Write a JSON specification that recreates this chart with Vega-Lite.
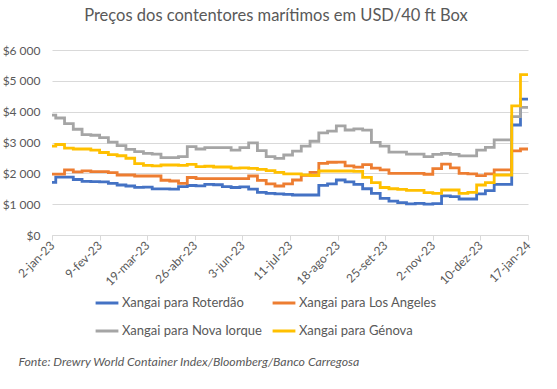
{
 "$schema": "https://vega.github.io/schema/vega-lite/v6.json",
 "width": 476, "height": 185,
 "autosize": "none",
 "padding": {"left": 52, "top": 50, "right": 29, "bottom": 154},
 "background": "white",
 "title": {"text": "Preços dos contentores marítimos em USD/40 ft Box", "fontSize": 16.5, "fontWeight": "normal", "color": "#595959", "font": "Lato", "anchor": "middle", "dx": -14, "offset": 20},
 "data": {"values": [
{"semana":"2023-01-02","rota":"Xangai para Roterdão","preco":1708},
{"semana":"2023-01-05","rota":"Xangai para Roterdão","preco":1880},
{"semana":"2023-01-12","rota":"Xangai para Roterdão","preco":1880},
{"semana":"2023-01-19","rota":"Xangai para Roterdão","preco":1800},
{"semana":"2023-01-26","rota":"Xangai para Roterdão","preco":1740},
{"semana":"2023-02-02","rota":"Xangai para Roterdão","preco":1730},
{"semana":"2023-02-09","rota":"Xangai para Roterdão","preco":1720},
{"semana":"2023-02-16","rota":"Xangai para Roterdão","preco":1676},
{"semana":"2023-02-23","rota":"Xangai para Roterdão","preco":1622},
{"semana":"2023-03-02","rota":"Xangai para Roterdão","preco":1590},
{"semana":"2023-03-09","rota":"Xangai para Roterdão","preco":1546},
{"semana":"2023-03-16","rota":"Xangai para Roterdão","preco":1550},
{"semana":"2023-03-23","rota":"Xangai para Roterdão","preco":1495},
{"semana":"2023-03-30","rota":"Xangai para Roterdão","preco":1495},
{"semana":"2023-04-06","rota":"Xangai para Roterdão","preco":1490},
{"semana":"2023-04-13","rota":"Xangai para Roterdão","preco":1570},
{"semana":"2023-04-20","rota":"Xangai para Roterdão","preco":1605},
{"semana":"2023-04-27","rota":"Xangai para Roterdão","preco":1595},
{"semana":"2023-05-04","rota":"Xangai para Roterdão","preco":1645},
{"semana":"2023-05-11","rota":"Xangai para Roterdão","preco":1630},
{"semana":"2023-05-18","rota":"Xangai para Roterdão","preco":1570},
{"semana":"2023-05-25","rota":"Xangai para Roterdão","preco":1540},
{"semana":"2023-06-01","rota":"Xangai para Roterdão","preco":1560},
{"semana":"2023-06-08","rota":"Xangai para Roterdão","preco":1490},
{"semana":"2023-06-15","rota":"Xangai para Roterdão","preco":1380},
{"semana":"2023-06-22","rota":"Xangai para Roterdão","preco":1352},
{"semana":"2023-06-29","rota":"Xangai para Roterdão","preco":1335},
{"semana":"2023-07-06","rota":"Xangai para Roterdão","preco":1320},
{"semana":"2023-07-13","rota":"Xangai para Roterdão","preco":1298},
{"semana":"2023-07-20","rota":"Xangai para Roterdão","preco":1298},
{"semana":"2023-07-27","rota":"Xangai para Roterdão","preco":1298},
{"semana":"2023-08-03","rota":"Xangai para Roterdão","preco":1610},
{"semana":"2023-08-10","rota":"Xangai para Roterdão","preco":1660},
{"semana":"2023-08-17","rota":"Xangai para Roterdão","preco":1784},
{"semana":"2023-08-24","rota":"Xangai para Roterdão","preco":1720},
{"semana":"2023-08-31","rota":"Xangai para Roterdão","preco":1640},
{"semana":"2023-09-07","rota":"Xangai para Roterdão","preco":1500},
{"semana":"2023-09-14","rota":"Xangai para Roterdão","preco":1350},
{"semana":"2023-09-21","rota":"Xangai para Roterdão","preco":1190},
{"semana":"2023-09-28","rota":"Xangai para Roterdão","preco":1100},
{"semana":"2023-10-05","rota":"Xangai para Roterdão","preco":1050},
{"semana":"2023-10-12","rota":"Xangai para Roterdão","preco":1010},
{"semana":"2023-10-19","rota":"Xangai para Roterdão","preco":1028},
{"semana":"2023-10-26","rota":"Xangai para Roterdão","preco":1000},
{"semana":"2023-11-02","rota":"Xangai para Roterdão","preco":1020},
{"semana":"2023-11-09","rota":"Xangai para Roterdão","preco":1270},
{"semana":"2023-11-16","rota":"Xangai para Roterdão","preco":1243},
{"semana":"2023-11-23","rota":"Xangai para Roterdão","preco":1168},
{"semana":"2023-11-30","rota":"Xangai para Roterdão","preco":1168},
{"semana":"2023-12-07","rota":"Xangai para Roterdão","preco":1335},
{"semana":"2023-12-14","rota":"Xangai para Roterdão","preco":1440},
{"semana":"2023-12-21","rota":"Xangai para Roterdão","preco":1640},
{"semana":"2023-12-28","rota":"Xangai para Roterdão","preco":1640},
{"semana":"2024-01-04","rota":"Xangai para Roterdão","preco":3568},
{"semana":"2024-01-11","rota":"Xangai para Roterdão","preco":4410},
{"semana":"2024-01-17","rota":"Xangai para Roterdão","preco":4410},
{"semana":"2023-01-02","rota":"Xangai para Los Angeles","preco":1975},
{"semana":"2023-01-05","rota":"Xangai para Los Angeles","preco":1975},
{"semana":"2023-01-12","rota":"Xangai para Los Angeles","preco":2109},
{"semana":"2023-01-19","rota":"Xangai para Los Angeles","preco":2045},
{"semana":"2023-01-26","rota":"Xangai para Los Angeles","preco":2080},
{"semana":"2023-02-02","rota":"Xangai para Los Angeles","preco":2054},
{"semana":"2023-02-09","rota":"Xangai para Los Angeles","preco":2054},
{"semana":"2023-02-16","rota":"Xangai para Los Angeles","preco":2022},
{"semana":"2023-02-23","rota":"Xangai para Los Angeles","preco":1946},
{"semana":"2023-03-02","rota":"Xangai para Los Angeles","preco":1946},
{"semana":"2023-03-09","rota":"Xangai para Los Angeles","preco":1914},
{"semana":"2023-03-16","rota":"Xangai para Los Angeles","preco":1914},
{"semana":"2023-03-23","rota":"Xangai para Los Angeles","preco":1914},
{"semana":"2023-03-30","rota":"Xangai para Los Angeles","preco":1775},
{"semana":"2023-04-06","rota":"Xangai para Los Angeles","preco":1752},
{"semana":"2023-04-13","rota":"Xangai para Los Angeles","preco":1676},
{"semana":"2023-04-20","rota":"Xangai para Los Angeles","preco":1865},
{"semana":"2023-04-27","rota":"Xangai para Los Angeles","preco":1830},
{"semana":"2023-05-04","rota":"Xangai para Los Angeles","preco":1830},
{"semana":"2023-05-11","rota":"Xangai para Los Angeles","preco":1830},
{"semana":"2023-05-18","rota":"Xangai para Los Angeles","preco":1830},
{"semana":"2023-05-25","rota":"Xangai para Los Angeles","preco":1830},
{"semana":"2023-06-01","rota":"Xangai para Los Angeles","preco":1830},
{"semana":"2023-06-08","rota":"Xangai para Los Angeles","preco":1914},
{"semana":"2023-06-15","rota":"Xangai para Los Angeles","preco":1770},
{"semana":"2023-06-22","rota":"Xangai para Los Angeles","preco":1660},
{"semana":"2023-06-29","rota":"Xangai para Los Angeles","preco":1590},
{"semana":"2023-07-06","rota":"Xangai para Los Angeles","preco":1655},
{"semana":"2023-07-13","rota":"Xangai para Los Angeles","preco":1784},
{"semana":"2023-07-20","rota":"Xangai para Los Angeles","preco":1935},
{"semana":"2023-07-27","rota":"Xangai para Los Angeles","preco":2030},
{"semana":"2023-08-03","rota":"Xangai para Los Angeles","preco":2325},
{"semana":"2023-08-10","rota":"Xangai para Los Angeles","preco":2360},
{"semana":"2023-08-17","rota":"Xangai para Los Angeles","preco":2365},
{"semana":"2023-08-24","rota":"Xangai para Los Angeles","preco":2240},
{"semana":"2023-08-31","rota":"Xangai para Los Angeles","preco":2200},
{"semana":"2023-09-07","rota":"Xangai para Los Angeles","preco":2280},
{"semana":"2023-09-14","rota":"Xangai para Los Angeles","preco":2170},
{"semana":"2023-09-21","rota":"Xangai para Los Angeles","preco":2109},
{"semana":"2023-09-28","rota":"Xangai para Los Angeles","preco":2000},
{"semana":"2023-10-05","rota":"Xangai para Los Angeles","preco":2000},
{"semana":"2023-10-12","rota":"Xangai para Los Angeles","preco":2000},
{"semana":"2023-10-19","rota":"Xangai para Los Angeles","preco":2000},
{"semana":"2023-10-26","rota":"Xangai para Los Angeles","preco":1970},
{"semana":"2023-11-02","rota":"Xangai para Los Angeles","preco":2150},
{"semana":"2023-11-09","rota":"Xangai para Los Angeles","preco":2300},
{"semana":"2023-11-16","rota":"Xangai para Los Angeles","preco":2175},
{"semana":"2023-11-23","rota":"Xangai para Los Angeles","preco":2000},
{"semana":"2023-11-30","rota":"Xangai para Los Angeles","preco":1980},
{"semana":"2023-12-07","rota":"Xangai para Los Angeles","preco":1925},
{"semana":"2023-12-14","rota":"Xangai para Los Angeles","preco":1980},
{"semana":"2023-12-21","rota":"Xangai para Los Angeles","preco":2109},
{"semana":"2023-12-28","rota":"Xangai para Los Angeles","preco":2109},
{"semana":"2024-01-04","rota":"Xangai para Los Angeles","preco":2730},
{"semana":"2024-01-11","rota":"Xangai para Los Angeles","preco":2790},
{"semana":"2024-01-17","rota":"Xangai para Los Angeles","preco":2790},
{"semana":"2023-01-02","rota":"Xangai para Nova Iorque","preco":3890},
{"semana":"2023-01-05","rota":"Xangai para Nova Iorque","preco":3795},
{"semana":"2023-01-12","rota":"Xangai para Nova Iorque","preco":3610},
{"semana":"2023-01-19","rota":"Xangai para Nova Iorque","preco":3430},
{"semana":"2023-01-26","rota":"Xangai para Nova Iorque","preco":3255},
{"semana":"2023-02-02","rota":"Xangai para Nova Iorque","preco":3235},
{"semana":"2023-02-09","rota":"Xangai para Nova Iorque","preco":3160},
{"semana":"2023-02-16","rota":"Xangai para Nova Iorque","preco":3010},
{"semana":"2023-02-23","rota":"Xangai para Nova Iorque","preco":2900},
{"semana":"2023-03-02","rota":"Xangai para Nova Iorque","preco":2779},
{"semana":"2023-03-09","rota":"Xangai para Nova Iorque","preco":2703},
{"semana":"2023-03-16","rota":"Xangai para Nova Iorque","preco":2649},
{"semana":"2023-03-23","rota":"Xangai para Nova Iorque","preco":2620},
{"semana":"2023-03-30","rota":"Xangai para Nova Iorque","preco":2510},
{"semana":"2023-04-06","rota":"Xangai para Nova Iorque","preco":2508},
{"semana":"2023-04-13","rota":"Xangai para Nova Iorque","preco":2541},
{"semana":"2023-04-20","rota":"Xangai para Nova Iorque","preco":2865},
{"semana":"2023-04-27","rota":"Xangai para Nova Iorque","preco":2790},
{"semana":"2023-05-04","rota":"Xangai para Nova Iorque","preco":2833},
{"semana":"2023-05-11","rota":"Xangai para Nova Iorque","preco":2833},
{"semana":"2023-05-18","rota":"Xangai para Nova Iorque","preco":2833},
{"semana":"2023-05-25","rota":"Xangai para Nova Iorque","preco":2750},
{"semana":"2023-06-01","rota":"Xangai para Nova Iorque","preco":2833},
{"semana":"2023-06-08","rota":"Xangai para Nova Iorque","preco":2990},
{"semana":"2023-06-15","rota":"Xangai para Nova Iorque","preco":2736},
{"semana":"2023-06-22","rota":"Xangai para Nova Iorque","preco":2541},
{"semana":"2023-06-29","rota":"Xangai para Nova Iorque","preco":2487},
{"semana":"2023-07-06","rota":"Xangai para Nova Iorque","preco":2595},
{"semana":"2023-07-13","rota":"Xangai para Nova Iorque","preco":2720},
{"semana":"2023-07-20","rota":"Xangai para Nova Iorque","preco":2880},
{"semana":"2023-07-27","rota":"Xangai para Nova Iorque","preco":3040},
{"semana":"2023-08-03","rota":"Xangai para Nova Iorque","preco":3310},
{"semana":"2023-08-10","rota":"Xangai para Nova Iorque","preco":3370},
{"semana":"2023-08-17","rota":"Xangai para Nova Iorque","preco":3540},
{"semana":"2023-08-24","rota":"Xangai para Nova Iorque","preco":3406},
{"semana":"2023-08-31","rota":"Xangai para Nova Iorque","preco":3439},
{"semana":"2023-09-07","rota":"Xangai para Nova Iorque","preco":3400},
{"semana":"2023-09-14","rota":"Xangai para Nova Iorque","preco":3007},
{"semana":"2023-09-21","rota":"Xangai para Nova Iorque","preco":2880},
{"semana":"2023-09-28","rota":"Xangai para Nova Iorque","preco":2690},
{"semana":"2023-10-05","rota":"Xangai para Nova Iorque","preco":2690},
{"semana":"2023-10-12","rota":"Xangai para Nova Iorque","preco":2620},
{"semana":"2023-10-19","rota":"Xangai para Nova Iorque","preco":2620},
{"semana":"2023-10-26","rota":"Xangai para Nova Iorque","preco":2541},
{"semana":"2023-11-02","rota":"Xangai para Nova Iorque","preco":2617},
{"semana":"2023-11-09","rota":"Xangai para Nova Iorque","preco":2649},
{"semana":"2023-11-16","rota":"Xangai para Nova Iorque","preco":2617},
{"semana":"2023-11-23","rota":"Xangai para Nova Iorque","preco":2563},
{"semana":"2023-11-30","rota":"Xangai para Nova Iorque","preco":2563},
{"semana":"2023-12-07","rota":"Xangai para Nova Iorque","preco":2750},
{"semana":"2023-12-14","rota":"Xangai para Nova Iorque","preco":2844},
{"semana":"2023-12-21","rota":"Xangai para Nova Iorque","preco":3082},
{"semana":"2023-12-28","rota":"Xangai para Nova Iorque","preco":3082},
{"semana":"2024-01-04","rota":"Xangai para Nova Iorque","preco":3838},
{"semana":"2024-01-11","rota":"Xangai para Nova Iorque","preco":4141},
{"semana":"2024-01-17","rota":"Xangai para Nova Iorque","preco":4141},
{"semana":"2023-01-02","rota":"Xangai para Génova","preco":2880},
{"semana":"2023-01-05","rota":"Xangai para Génova","preco":2935},
{"semana":"2023-01-12","rota":"Xangai para Génova","preco":2820},
{"semana":"2023-01-19","rota":"Xangai para Génova","preco":2790},
{"semana":"2023-01-26","rota":"Xangai para Génova","preco":2790},
{"semana":"2023-02-02","rota":"Xangai para Génova","preco":2750},
{"semana":"2023-02-09","rota":"Xangai para Génova","preco":2675},
{"semana":"2023-02-16","rota":"Xangai para Génova","preco":2610},
{"semana":"2023-02-23","rota":"Xangai para Génova","preco":2570},
{"semana":"2023-03-02","rota":"Xangai para Génova","preco":2490},
{"semana":"2023-03-09","rota":"Xangai para Génova","preco":2315},
{"semana":"2023-03-16","rota":"Xangai para Génova","preco":2260},
{"semana":"2023-03-23","rota":"Xangai para Génova","preco":2240},
{"semana":"2023-03-30","rota":"Xangai para Génova","preco":2270},
{"semana":"2023-04-06","rota":"Xangai para Génova","preco":2270},
{"semana":"2023-04-13","rota":"Xangai para Génova","preco":2260},
{"semana":"2023-04-20","rota":"Xangai para Génova","preco":2290},
{"semana":"2023-04-27","rota":"Xangai para Génova","preco":2216},
{"semana":"2023-05-04","rota":"Xangai para Génova","preco":2230},
{"semana":"2023-05-11","rota":"Xangai para Génova","preco":2206},
{"semana":"2023-05-18","rota":"Xangai para Génova","preco":2206},
{"semana":"2023-05-25","rota":"Xangai para Génova","preco":2170},
{"semana":"2023-06-01","rota":"Xangai para Génova","preco":2180},
{"semana":"2023-06-08","rota":"Xangai para Génova","preco":2163},
{"semana":"2023-06-15","rota":"Xangai para Génova","preco":2130},
{"semana":"2023-06-22","rota":"Xangai para Génova","preco":2087},
{"semana":"2023-06-29","rota":"Xangai para Génova","preco":2033},
{"semana":"2023-07-06","rota":"Xangai para Génova","preco":1980},
{"semana":"2023-07-13","rota":"Xangai para Génova","preco":1980},
{"semana":"2023-07-20","rota":"Xangai para Génova","preco":1950},
{"semana":"2023-07-27","rota":"Xangai para Génova","preco":1930},
{"semana":"2023-08-03","rota":"Xangai para Génova","preco":2075},
{"semana":"2023-08-10","rota":"Xangai para Génova","preco":2075},
{"semana":"2023-08-17","rota":"Xangai para Génova","preco":2075},
{"semana":"2023-08-24","rota":"Xangai para Génova","preco":2075},
{"semana":"2023-08-31","rota":"Xangai para Génova","preco":2065},
{"semana":"2023-09-07","rota":"Xangai para Génova","preco":1870},
{"semana":"2023-09-14","rota":"Xangai para Génova","preco":1697},
{"semana":"2023-09-21","rota":"Xangai para Génova","preco":1540},
{"semana":"2023-09-28","rota":"Xangai para Génova","preco":1500},
{"semana":"2023-10-05","rota":"Xangai para Génova","preco":1480},
{"semana":"2023-10-12","rota":"Xangai para Génova","preco":1450},
{"semana":"2023-10-19","rota":"Xangai para Génova","preco":1450},
{"semana":"2023-10-26","rota":"Xangai para Génova","preco":1373},
{"semana":"2023-11-02","rota":"Xangai para Génova","preco":1352},
{"semana":"2023-11-09","rota":"Xangai para Génova","preco":1460},
{"semana":"2023-11-16","rota":"Xangai para Génova","preco":1460},
{"semana":"2023-11-23","rota":"Xangai para Génova","preco":1352},
{"semana":"2023-11-30","rota":"Xangai para Génova","preco":1384},
{"semana":"2023-12-07","rota":"Xangai para Génova","preco":1622},
{"semana":"2023-12-14","rota":"Xangai para Génova","preco":1700},
{"semana":"2023-12-21","rota":"Xangai para Génova","preco":1946},
{"semana":"2023-12-28","rota":"Xangai para Génova","preco":1946},
{"semana":"2024-01-04","rota":"Xangai para Génova","preco":4190},
{"semana":"2024-01-11","rota":"Xangai para Génova","preco":5200},
{"semana":"2024-01-17","rota":"Xangai para Génova","preco":5200}
 ]},
 "mark": {"type": "line", "interpolate": "step-after", "strokeWidth": 2.8, "strokeJoin": "miter"},
 "encoding": {
  "x": {"field": "semana", "type": "temporal",
   "scale": {"type": "utc", "domain": [{"year": 2023, "month": 1, "date": 2, "utc": true}, {"year": 2024, "month": 1, "date": 17, "utc": true}]},
   "axis": {
    "values": [
     {"year": 2023, "month": 1, "date": 2, "utc": true},
     {"year": 2023, "month": 2, "date": 9, "utc": true},
     {"year": 2023, "month": 3, "date": 19, "utc": true},
     {"year": 2023, "month": 4, "date": 26, "utc": true},
     {"year": 2023, "month": 6, "date": 3, "utc": true},
     {"year": 2023, "month": 7, "date": 11, "utc": true},
     {"year": 2023, "month": 8, "date": 18, "utc": true},
     {"year": 2023, "month": 9, "date": 25, "utc": true},
     {"year": 2023, "month": 11, "date": 2, "utc": true},
     {"year": 2023, "month": 12, "date": 10, "utc": true},
     {"year": 2024, "month": 1, "date": 17, "utc": true}
    ],
    "labelExpr": "utcFormat(datum.value, '%-d-%b-%y')",
    "labelAngle": -45, "labelAlign": "right", "labelBaseline": "middle",
    "labelFontSize": 12, "labelColor": "#595959", "labelPadding": 3,
    "tickSize": 5, "tickColor": "#d9d9d9", "domainColor": "#d9d9d9", "grid": false,
    "labelOverlap": false, "labelFlush": false, "labelBound": false,
    "title": "Fonte: Drewry World Container Index/Bloomberg/Banco Carregosa",
    "titleFontStyle": "italic", "titleFontWeight": "normal", "titleFontSize": 12.3, "titleColor": "#595959",
    "titleAnchor": "start", "titleAlign": "left", "titleBaseline": "middle",
    "titleX": -34, "titleY": 126
   }},
  "y": {"field": "preco", "type": "quantitative",
   "scale": {"domain": [0, 6000]},
   "axis": {"values": [0, 1000, 2000, 3000, 4000, 5000, 6000], "format": "$,.0f", "domain": false, "ticks": false,
    "gridColor": "#d9d9d9", "labelPadding": 12, "labelFontSize": 12, "labelColor": "#595959", "title": null}},
  "color": {"field": "rota", "type": "nominal",
   "scale": {"domain": ["Xangai para Roterdão", "Xangai para Los Angeles", "Xangai para Nova Iorque", "Xangai para Génova"],
             "range": ["#4472C4", "#ED7D31", "#A5A5A5", "#FFC000"]},
   "legend": {"title": null, "orient": "none", "direction": "horizontal", "legendX": 42, "legendY": 240, "columns": 2,
    "symbolType": "stroke", "symbolStrokeWidth": 3, "symbolSize": 520,
    "labelFontSize": 13, "labelColor": "#595959", "columnPadding": 4, "rowPadding": 8, "labelOffset": 2}}
 },
 "config": {
  "font": "Lato",
  "view": {"stroke": null},
  "locale": {
   "number": {"decimal": ",", "thousands": " ", "grouping": [3], "currency": ["$", ""]},
   "time": {"dateTime": "%A, %e de %B de %Y. %X", "date": "%d/%m/%Y", "time": "%H:%M:%S", "periods": ["AM", "PM"],
    "days": ["domingo", "segunda", "terça", "quarta", "quinta", "sexta", "sábado"],
    "shortDays": ["dom", "seg", "ter", "qua", "qui", "sex", "sáb"],
    "months": ["janeiro", "fevereiro", "março", "abril", "maio", "junho", "julho", "agosto", "setembro", "outubro", "novembro", "dezembro"],
    "shortMonths": ["jan", "fev", "mar", "abr", "mai", "jun", "jul", "ago", "set", "out", "nov", "dez"]}
  }
 }
}
